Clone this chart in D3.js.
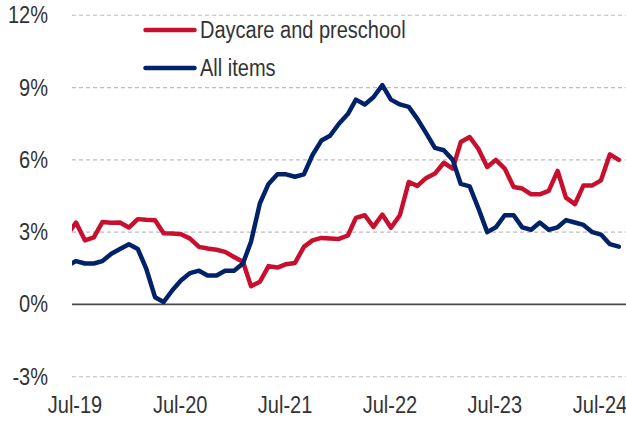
<!DOCTYPE html>
<html>
<head>
<meta charset="utf-8">
<script src="https://cdn.jsdelivr.net/npm/d3@7"></script>
<style>
    body { margin: 0; background: #fff; }
    text { font-family: "Liberation Sans", Arial, sans-serif; font-size: 23px; fill: #333; }
</style>
</head>
<body>
<div id="chart"></div>
<script>
// monthly YoY % change, first value is Jun-19 (partly clipped at the left edge)
const startMonth = "2019-06";
const daycare = [
    2.9, 3.4, 2.66, 2.78, 3.42, 3.39, 3.4,                       // 2019 Jun-Dec
    3.19, 3.54, 3.51, 3.49, 2.95, 2.94, 2.91, 2.73, 2.39, 2.32, 2.27, 2.18, // 2020
    1.97, 1.77, 0.76, 0.94, 1.59, 1.53, 1.67, 1.72, 2.39, 2.66, 2.76, 2.74, // 2021
    2.72, 2.86, 3.59, 3.7, 3.22, 3.73, 3.18, 3.7, 5.08, 4.92, 5.25, 5.43,   // 2022
    5.88, 5.64, 6.74, 6.95, 6.46, 5.7, 6.0, 5.64, 4.87, 4.81, 4.57, 4.57,   // 2023
    4.71, 5.54, 4.43, 4.16, 4.94, 4.94, 5.15, 6.23, 6.0                     // 2024 Jan-Sep
];
const allItems = [
    1.6, 1.8, 1.7, 1.7, 1.8, 2.1, 2.3,
    2.5, 2.3, 1.5, 0.3, 0.1, 0.6, 1.0, 1.3, 1.4, 1.2, 1.2, 1.4,
    1.4, 1.7, 2.6, 4.2, 5.0, 5.4, 5.4, 5.3, 5.4, 6.2, 6.8, 7.0,
    7.5, 7.9, 8.5, 8.3, 8.6, 9.1, 8.5, 8.3, 8.2, 7.7, 7.1, 6.5,
    6.4, 6.0, 5.0, 4.9, 4.0, 3.0, 3.2, 3.7, 3.7, 3.2, 3.1, 3.4,
    3.1, 3.2, 3.5, 3.4, 3.3, 3.0, 2.9, 2.5, 2.4
];
const seriesNames = ["Daycare and preschool", "All items"];
const seriesColors = ["#c8102e", "#012169"];
const yTicks = [-3, 0, 3, 6, 9, 12];
const xTickLabels = ["Jul-19", "Jul-20", "Jul-21", "Jul-22", "Jul-23", "Jul-24"];

const width = 626, height = 423;
const margin = { top: 15, bottom: 46, left: 72, right: 0 };
const squeeze = 0.87; // no narrow font installed, so squash Liberation Sans a bit

const parseMonth = d3.timeParse("%Y-%m");
const parseLabel = d3.timeParse("%b-%y");
const start = parseMonth(startMonth);

function toPoints(values) {
    return values.map(function (v, i) { return { date: d3.timeMonth.offset(start, i), v: v }; });
}
const series = [toPoints(daycare), toPoints(allItems)];

function place(px, py) {
    return "translate(" + px + "," + py + ") scale(" + squeeze + ",1)";
}

// Jul-19 .. Jul-24 sit slightly inside the plot edges
const x = d3.scaleTime()
    .domain([parseLabel("Jul-19"), parseLabel("Jul-24")])
    .range([76, 601]);
const y = d3.scaleLinear()
    .domain([-3, 12])
    .range([height - margin.bottom - 0.3, margin.top + 0.3]);

const svg = d3.select("#chart").append("svg")
    .attr("width", width)
    .attr("height", height);

svg.append("defs").append("clipPath").attr("id", "plotClip")
    .append("rect")
    .attr("x", margin.left).attr("y", 0)
    .attr("width", width - margin.left - margin.right).attr("height", height);

// grid
svg.append("g").selectAll("line")
    .data(yTicks)
    .join("line")
    .attr("x1", margin.left).attr("x2", width - margin.right)
    .attr("y1", d => y(d)).attr("y2", d => y(d))
    .attr("stroke", d => d === 0 ? "#4a4a4a" : "#bdbdbd")
    .attr("stroke-width", d => d === 0 ? 1.7 : 1.1)
    .attr("stroke-dasharray", d => d === 0 ? null : "4,3");

// y labels
svg.append("g").selectAll("text")
    .data(yTicks)
    .join("text")
    .attr("transform", d => place(48, y(d) + 8))
    .attr("text-anchor", "end")
    .text(d => d + "%");

// x labels
svg.append("g").selectAll("text")
    .data(xTickLabels)
    .join("text")
    .attr("transform", d => place(x(parseLabel(d)) - 1, 413))
    .attr("text-anchor", "middle")
    .text(d => d);

const line = d3.line().x(d => x(d.date)).y(d => y(d.v));

svg.append("g").attr("clip-path", "url(#plotClip)")
    .selectAll("path")
    .data(series)
    .join("path")
    .attr("d", line)
    .attr("fill", "none")
    .attr("stroke", (d, i) => seriesColors[i])
    .attr("stroke-width", 4.5)
    .attr("stroke-linejoin", "round")
    .attr("stroke-linecap", "round");

// legend
const legend = svg.append("g").selectAll("g")
    .data(seriesNames)
    .join("g")
    .attr("transform", (d, i) => "translate(0," + (30 + i * 38) + ")");
legend.append("line")
    .attr("x1", 145.5).attr("x2", 194.5)
    .attr("stroke", (d, i) => seriesColors[i])
    .attr("stroke-width", 4.5)
    .attr("stroke-linecap", "round");
legend.append("text")
    .attr("transform", place(200, 8))
    .text(d => d);
</script>
</body>
</html>
